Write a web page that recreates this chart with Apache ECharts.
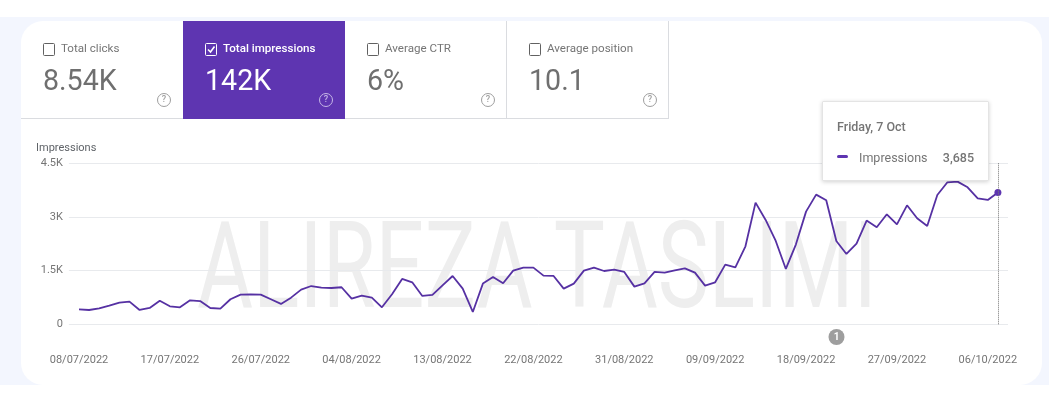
<!DOCTYPE html>
<html>
<head>
<meta charset="utf-8">
<style>
html, body { margin: 0; padding: 0; background: #fff; }
#chart { width: 1049px; height: 402px; }
</style>
<script src="https://cdn.jsdelivr.net/npm/echarts@6/dist/echarts.min.js"></script>
</head>
<body>
<div id="chart"></div>
<script>
// data, one value per day from 08/07/2022
var impressions = [419, 400, 447, 520, 605, 633, 400, 456, 660, 503, 475, 670, 650, 456, 440, 700,
  830, 838, 830, 700, 570, 745, 970, 1070, 1025, 1015, 1035, 717, 801, 745, 475, 838, 1267, 1174,
  792, 820, 1090, 1351, 997, 345, 1137, 1323, 1146, 1500, 1584, 1584, 1360, 1351, 997, 1137, 1500,
  1584, 1490, 1528, 1463, 1053, 1146, 1463, 1444, 1510, 1565, 1444, 1081, 1174, 1668, 1593, 2180,
  3400, 2916, 2329, 1547, 2236, 3149, 3624, 3466, 2329, 1966, 2255, 2898, 2711, 3075, 2795, 3326,
  2963, 2749, 3615, 3969, 3988, 3829, 3522, 3475, 3685];
var tickDays = [0, 9, 18, 27, 36, 45, 54, 63, 72, 81, 90];
var tickLabels = ['08/07/2022', '17/07/2022', '26/07/2022', '04/08/2022', '13/08/2022', '22/08/2022',
  '31/08/2022', '09/09/2022', '18/09/2022', '27/09/2022', '06/10/2022'];
var tiles = [
  { label: 'Total clicks', value: '8.54K', on: false },
  { label: 'Total impressions', value: '142K', on: true },
  { label: 'Average CTR', value: '6%', on: false },
  { label: 'Average position', value: '10.1', on: false }
];

var PURPLE = '#5e35b1';
var LINE = '#5631a3';
var FONT = 'Roboto, sans-serif';

var seriesData = impressions.map(function (v, i) { return [i, v]; });
var lastIndex = impressions.length - 1;

// background, tiles and annotation are plain graphic elements
var els = [
  { type: 'rect', z: -10, shape: { x: 0, y: 17, width: 1049, height: 368 }, style: { fill: '#f3f6fe' } },
  { type: 'rect', z: -9, shape: { x: 21, y: 21, width: 1021, height: 364, r: 22 }, style: { fill: '#fff' } },
  // watermark, squeezed to its condensed look
  { type: 'text', z: -8, x: 197, y: 216, scaleX: 0.71, style: { text: 'ALIREZA TASLIMI', fill: '#eeeeee', font: '400 121px ' + FONT, textVerticalAlign: 'top' } }
];

tiles.forEach(function (t, i) {
  var x = 21 + i * 162;
  var textColor = t.on ? '#fff' : '#757575';
  if (t.on) {
    els.push({ type: 'rect', z: 5, shape: { x: x, y: 21, width: 162, height: 98 }, style: { fill: PURPLE } });
  } else {
    els.push({ type: 'line', z: 4, shape: { x1: x, y1: 118.5, x2: x + 162, y2: 118.5 }, style: { stroke: '#dadce0', lineWidth: 1 } });
  }
  if (i >= 2) {
    els.push({ type: 'line', z: 4, shape: { x1: x + 161.5, y1: 21, x2: x + 161.5, y2: 119 }, style: { stroke: '#dadce0', lineWidth: 1 } });
  }
  // checkbox
  els.push({ type: 'rect', z: 6, shape: { x: x + 22.5, y: 43.5, width: 11, height: 12, r: 1 }, style: { fill: 'none', stroke: t.on ? '#fff' : '#616161', lineWidth: 1 } });
  if (t.on) {
    els.push({ type: 'polyline', z: 6, shape: { points: [[x + 25, 49.5], [x + 27.5, 52], [x + 31.5, 46.5]] }, style: { fill: 'none', stroke: '#fff', lineWidth: 1.6 } });
  }
  els.push({ type: 'text', z: 6, x: x + 40, y: 49, style: { text: t.label, fill: textColor, font: (t.on ? '500 ' : '400 ') + '11.6px ' + FONT, textVerticalAlign: 'middle' } });
  els.push({ type: 'text', z: 6, x: x + 22, y: 83, style: { text: t.value, fill: t.on ? '#fff' : '#6f6f6f', font: '400 28.6px ' + FONT, textVerticalAlign: 'middle' } });
  // help icon
  els.push({ type: 'circle', z: 6, shape: { cx: x + 143, cy: 100, r: 6.5 }, style: { fill: 'none', stroke: t.on ? '#c5b6e6' : '#9e9e9e', lineWidth: 1 } });
  els.push({ type: 'text', z: 6, x: x + 143, y: 100, style: { text: '?', fill: t.on ? '#c5b6e6' : '#9e9e9e', font: '500 9px ' + FONT, textAlign: 'center', textVerticalAlign: 'middle' } });
});

els.push({ type: 'circle', z: 6, shape: { cx: 836.5, cy: 337, r: 8 }, style: { fill: '#9e9e9e' } });
els.push({ type: 'text', z: 7, x: 836.5, y: 337, style: { text: '1', fill: '#fff', font: '700 10px ' + FONT, textAlign: 'center', textVerticalAlign: 'middle' } });

var chart = echarts.init(document.getElementById('chart'), null, { renderer: 'canvas' });
chart.setOption({
  animation: false,
  textStyle: { fontFamily: FONT },
  graphic: { elements: els },
  grid: { left: 68.9, right: 41, top: 163.3, bottom: 77.7 },
  tooltip: {
    trigger: 'item',
    alwaysShowContent: true,
    position: [822, 101],
    padding: 0,
    borderWidth: 1,
    borderColor: '#e4e4e4',
    backgroundColor: '#fff',
    extraCssText: 'box-shadow:0 1px 4px rgba(0,0,0,.18);border-radius:1px;',
    formatter: function () {
      return '<div style="width:165px;height:78px;position:relative;font-family:Roboto,sans-serif;color:#757575;font-size:12.5px;line-height:14px">' +
        '<div style="position:absolute;left:14px;top:18px;font-weight:500">Friday, 7 Oct</div>' +
        '<div style="position:absolute;left:14px;top:53px;width:11px;height:3px;border-radius:2px;background:' + PURPLE + '"></div>' +
        '<div style="position:absolute;left:36px;top:49px;">Impressions</div>' +
        '<div style="position:absolute;right:14px;top:49px;font-weight:500">' + impressions[lastIndex].toLocaleString('en-US') + '</div>' +
        '</div>';
    }
  },
  xAxis: {
    type: 'value',
    min: -1,
    max: impressions.length,
    axisLine: { show: false },
    axisTick: { show: false },
    splitLine: { show: false },
    axisLabel: {
      customValues: tickDays,
      color: '#757575',
      fontSize: 11,
      margin: 30,
      hideOverlap: false,
      formatter: function (v) { return tickLabels[tickDays.indexOf(v)]; }
    }
  },
  yAxis: {
    type: 'value',
    min: 0,
    max: 4500,
    interval: 1500,
    name: 'Impressions',
    nameLocation: 'end',
    nameGap: 10,
    nameTextStyle: { color: '#5f6368', fontSize: 11, align: 'left', padding: [0, 0, 0, -43] },
    axisLine: { show: false },
    axisTick: { show: false },
    splitLine: { lineStyle: { color: '#e8eaed', width: 1 } },
    axisLabel: {
      color: '#757575',
      fontSize: 11,
      margin: 6,
      formatter: function (v) { return v === 0 ? '0' : (v / 1000) + 'K'; }
    }
  },
  series: [{
    name: 'Impressions',
    type: 'line',
    data: seriesData,
    showAllSymbol: true,
    symbol: 'circle',
    symbolSize: function (v, p) { return p.dataIndex === lastIndex ? 7 : 0; },
    itemStyle: { color: PURPLE },
    lineStyle: { color: LINE, width: 1.8 },
    emphasis: { disabled: true },
    markLine: {
      silent: true,
      symbol: 'none',
      label: { show: false },
      lineStyle: { color: '#757575', type: 'dotted', width: 1 },
      data: [{ xAxis: lastIndex }]
    }
  }]
});
chart.dispatchAction({ type: 'showTip', seriesIndex: 0, dataIndex: lastIndex });

window.onresize = function () { chart.resize(); };
</script>
</body>
</html>
